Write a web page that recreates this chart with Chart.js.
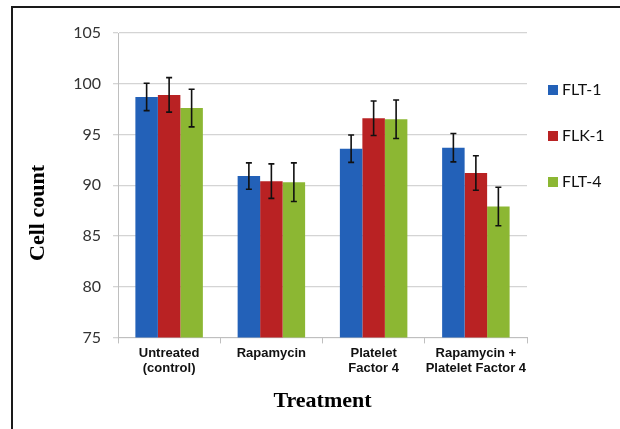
<!DOCTYPE html>
<html lang="en">
<head>
  <meta charset="UTF-8">
  <title>Cell count by treatment</title>
  <style>
    body { margin: 0; background: #fff; }
    .frame { position: absolute; left: 11px; top: 6px; width: 700px; height: 500px;
             border-left: 2px solid #1a1a1a; border-top: 2px solid #1a1a1a; }
    .wrap { position: absolute; left: 0; top: 0; width: 620px; height: 429px; }
  </style>
</head>
<body>
  <div class="frame"></div>
  <div class="wrap">
    <canvas id="graphic" width="620" height="429"></canvas>
  </div>

  <script src="https://cdn.jsdelivr.net/npm/chart.js"></script>

  <script>
    const categories = [['Untreated', '(control)'], 'Rapamycin', ['Platelet', 'Factor 4'], ['Rapamycin +', 'Platelet Factor 4']];
    const seriesNames = ['FLT-1', 'FLK-1', 'FLT-4'];
    const flt1 = [98.7, 90.9, 93.6, 93.7];
    const flk1 = [98.9, 90.4, 96.6, 91.2];
    const flt4 = [97.6, 90.3, 96.5, 87.9];
    const flt1Err = [1.35, 1.3, 1.35, 1.4];
    const flk1Err = [1.7, 1.7, 1.7, 1.7];
    const flt4Err = [1.85, 1.9, 1.9, 1.9];
    const yTicks = [75, 80, 85, 90, 95, 100, 105];

    const colores = ['#2361b8', '#b92223', '#8cb733'];

    // error bars drawn from each bar's x and the y scale
    const errorBars = {
      id: 'errorBars',
      afterDatasetsDraw(chart) {
        const { ctx } = chart;
        const y = chart.scales.y;
        chart.data.datasets.forEach((ds, i) => {
          const meta = chart.getDatasetMeta(i);
          meta.data.forEach((bar, j) => {
            const v = ds.data[j], e = ds.errors[j];
            const top = y.getPixelForValue(v + e);
            const bot = y.getPixelForValue(v - e);
            ctx.save();
            ctx.strokeStyle = '#111';
            ctx.lineWidth = 1.6;
            ctx.beginPath();
            ctx.moveTo(bar.x, top); ctx.lineTo(bar.x, bot);
            ctx.moveTo(bar.x - 3, top); ctx.lineTo(bar.x + 3, top);
            ctx.moveTo(bar.x - 3, bot); ctx.lineTo(bar.x + 3, bot);
            ctx.stroke();
            ctx.restore();
          });
        });
      }
    };

    // y title + legend on the right
    const extras = {
      id: 'extras',
      afterDraw(chart) {
        const { ctx, chartArea } = chart;
        ctx.save();
        ctx.fillStyle = '#000';
        ctx.font = 'bold 22px "Liberation Serif"';
        ctx.textAlign = 'center';
        ctx.textBaseline = 'middle';
        ctx.translate(38, chartArea.top + 180);
        ctx.rotate(-Math.PI / 2);
        ctx.fillText('Cell count', 0, 0);
        ctx.restore();

        ctx.save();
        ctx.font = '16px Lato';
        ctx.textBaseline = 'middle';
        chart.data.datasets.forEach((ds, i) => {
          const yy = chartArea.top + 57 + i * 46;
          ctx.fillStyle = ds.backgroundColor;
          ctx.fillRect(chartArea.right + 21, yy - 5, 10, 10);
          ctx.fillStyle = '#111';
          ctx.fillText(ds.label, chartArea.right + 35, yy);
        });
        ctx.restore();
      }
    };

    const errores = [flt1Err, flk1Err, flt4Err];
    const series = [flt1, flk1, flt4];

    new Chart(document.getElementById('graphic'), {
      type: 'bar',
      data: {
        labels: categories,
        datasets: seriesNames.map((name, i) => ({
          label: name,
          data: series[i],
          errors: errores[i],
          backgroundColor: colores[i],
          categoryPercentage: 0.66,
          barPercentage: 1
        }))
      },
      options: {
        responsive: false,
        animation: false,
        layout: { padding: { top: 33, right: 93, bottom: 10, left: 0 } },
        plugins: {
          legend: { display: false },
          tooltip: { enabled: false }
        },
        scales: {
          x: {
            grid: { display: true, offset: true, drawOnChartArea: false, drawTicks: true, tickLength: 6, color: '#bfbfbf' },
            border: { color: '#bfbfbf' },
            ticks: { autoSkip: false, color: '#111', font: { family: '"Liberation Sans"', size: 13, weight: 'bold', lineHeight: 1.2 }, padding: 2, maxRotation: 0 },
            title: { display: true, text: 'Treatment', color: '#000', font: { family: '"Liberation Serif"', size: 22, weight: 'bold' }, padding: { top: 10, bottom: 4 } }
          },
          y: {
            min: 75,
            max: 105,
            afterBuildTicks: s => { s.ticks = yTicks.map(v => ({ value: v })); },
            afterFit: s => { s.width = 118; },
            grid: { color: '#d4d4d4', lineWidth: 1.3, tickLength: 5 },
            border: { color: '#bfbfbf' },
            ticks: { color: '#333', font: { family: 'Lato', size: 16 }, padding: 12 }
          }
        }
      },
      plugins: [errorBars, extras]
    });
  </script>
</body>
</html>
